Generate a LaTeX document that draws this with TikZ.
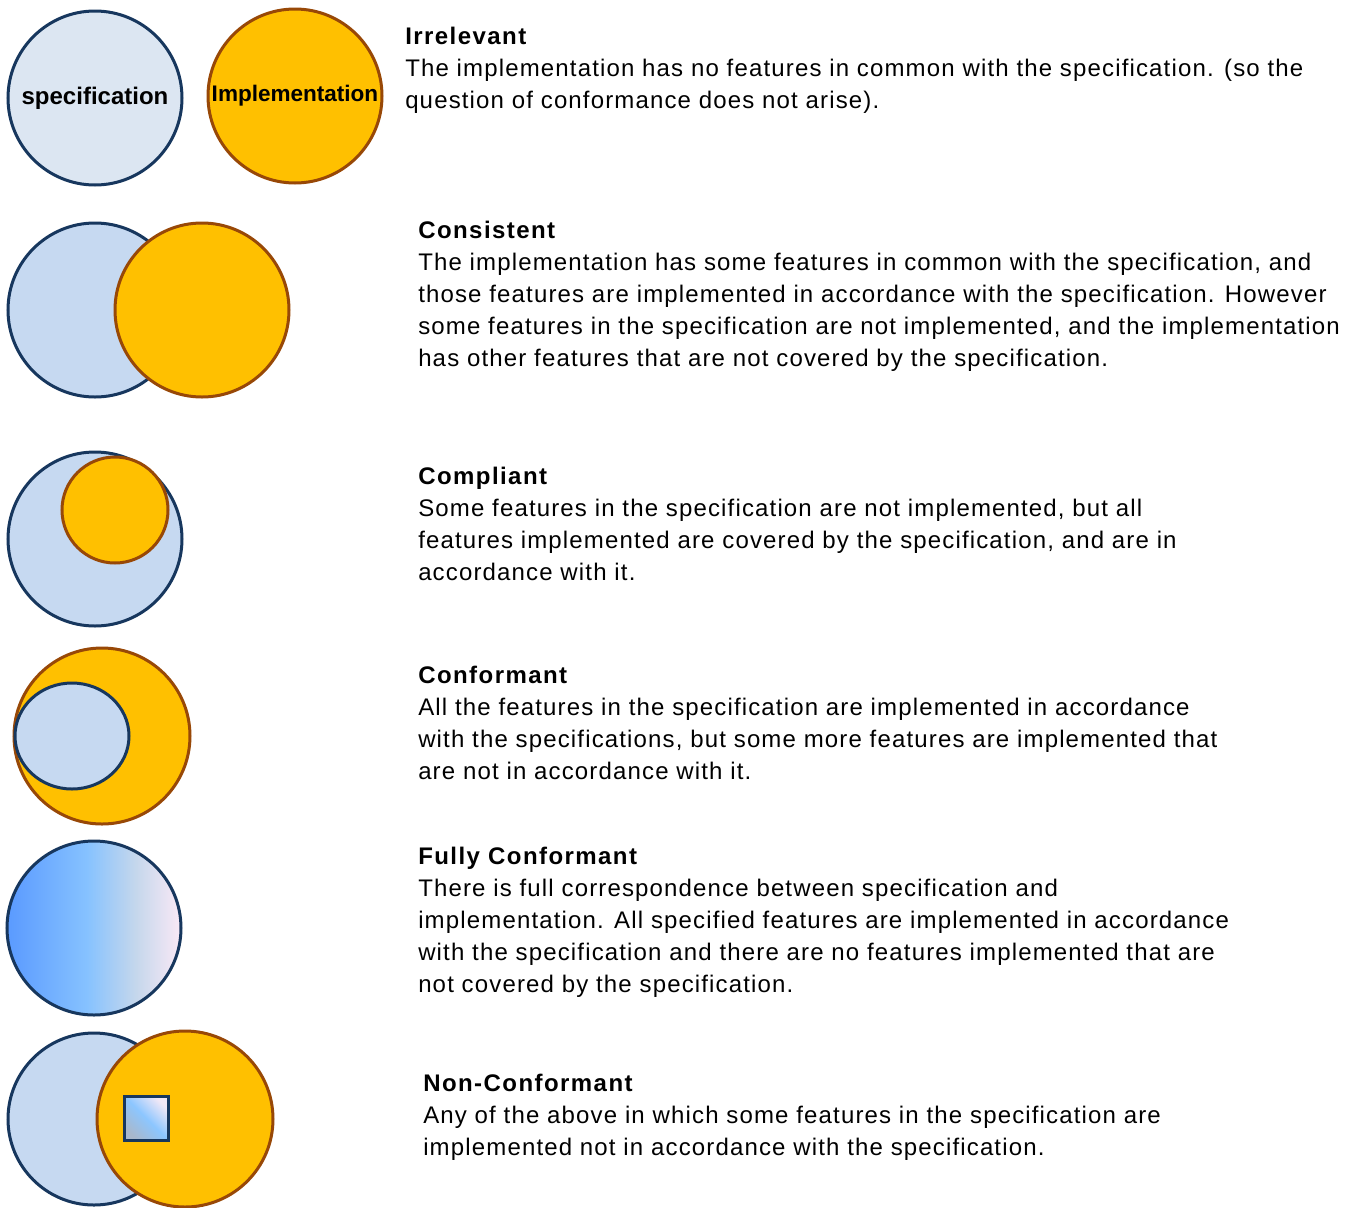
\documentclass[tikz,border=0pt]{standalone}
\usepackage{fontspec}
\setmainfont{Liberation Sans}
\usetikzlibrary{shapes.geometric}
\definecolor{specfill}{HTML}{C6D9F1}
\definecolor{specfillA}{HTML}{DCE6F2}
\definecolor{specline}{HTML}{17375E}
\definecolor{implfill}{HTML}{FFC000}
\definecolor{implline}{HTML}{984807}
\definecolor{gA}{HTML}{5A9AFF}
\definecolor{gB}{HTML}{86C2FF}
\definecolor{gC}{HTML}{C5D7EC}
\definecolor{gD}{HTML}{FAE9F6}
\definecolor{sA}{HTML}{A8B8CC}
\definecolor{sB}{HTML}{8CC6FF}
\definecolor{sC}{HTML}{F2E8F6}
\pgfdeclarehorizontalshading{fullgrad}{100bp}{color(0bp)=(gA); color(25bp)=(gA); color(48bp)=(gB); color(62bp)=(gC); color(75bp)=(gD); color(100bp)=(gD)}
\pgfdeclareverticalshading{sqgrad}{100bp}{color(0bp)=(sA); color(25bp)=(sA); color(50bp)=(sB); color(75bp)=(sC); color(100bp)=(sC)}
\newcommand\ttl[1]{{\bfseries\addfontfeature{LetterSpace=6}#1}}
\tikzset{
  spec/.style={circle, draw=specline, fill=specfill, line width=2.25pt, minimum size=130.5pt, inner sep=0pt},
  impl/.style={circle, draw=implline, fill=implfill, line width=2.25pt, minimum size=130.5pt, inner sep=0pt},
  desc/.style={anchor=north west, inner sep=0pt, align=left, font=\fontsize{18pt}{24pt}\selectfont\addfontfeature{LetterSpace=4.8}},
}
\begin{document}
\begin{tikzpicture}[x=0.75pt,y=-0.75pt]
\path[use as bounding box] (0,0) rectangle (1363,1207);
% Row 1: Irrelevant
\node[spec, fill=specfillA, font=\fontsize{18pt}{20pt}\selectfont\bfseries] (s1) at (95,98) {\raisebox{1.5pt}{specification}};
\node[impl, font=\fontsize{16.9pt}{20pt}\selectfont\bfseries] (i1) at (295,96) {Implementation};
\node[desc] (t1) at (405,22.3) {\strut\ttl{Irrelevant}\\
The implementation has no features in common with the specification. (so the\\
question of conformance does not arise).};
% Row 2: Consistent
\node[spec] (s2) at (95,310) {};
\node[impl] (i2) at (202,310) {};
\node[desc] (t2) at (418,216.3) {\strut\ttl{Consistent}\\
The implementation has some features in common with the specification, and\\
those features are implemented in accordance with the specification. However\\
some features in the specification are not implemented, and the implementation\\
has other features that are not covered by the specification.};
% Row 3: Compliant
\node[spec] (s3) at (95,539) {};
\node[impl, minimum size=79.5pt] (i3) at (115,510) {};
\node[desc] (t3) at (418,462.3) {\strut\ttl{Compliant}\\
Some features in the specification are not implemented, but all\\
features implemented are covered by the specification, and are in\\
accordance with it.};
% Row 4: Conformant
\node[impl, minimum size=132pt] (i4) at (102,736) {};
\node[ellipse, draw=specline, fill=specfill, line width=2.25pt, minimum width=85.5pt, minimum height=79.5pt, inner sep=0pt] (s4) at (72,736) {};
\node[desc] (t4) at (418,661.3) {\strut\ttl{Conformant}\\
All the features in the specification are implemented in accordance\\
with the specifications, but some more features are implemented that\\
are not in accordance with it.};
% Row 5: Fully Conformant
\node[spec, shading=fullgrad] (s5) at (94,928) {};
\node[desc] (t5) at (418,842.3) {\strut\ttl{Fully Conformant}\\
There is full correspondence between specification and\\
implementation. All specified features are implemented in accordance\\
with the specification and there are no features implemented that are\\
not covered by the specification.};
% Row 6: Non-Conformant
\node[spec, minimum size=129pt] (s6) at (94,1119) {};
\node[impl, minimum size=132pt] (i6) at (185,1119) {};
\node[rectangle, draw=specline, line width=2.25pt, shading=sqgrad, shading angle=-45, minimum size=33pt, inner sep=0pt] (q6) at (146,1118) {};
\node[desc] (t6) at (423,1069.3) {\strut\ttl{Non-Conformant}\\
Any of the above in which some features in the specification are\\
implemented not in accordance with the specification.};
\end{tikzpicture}
\end{document}
